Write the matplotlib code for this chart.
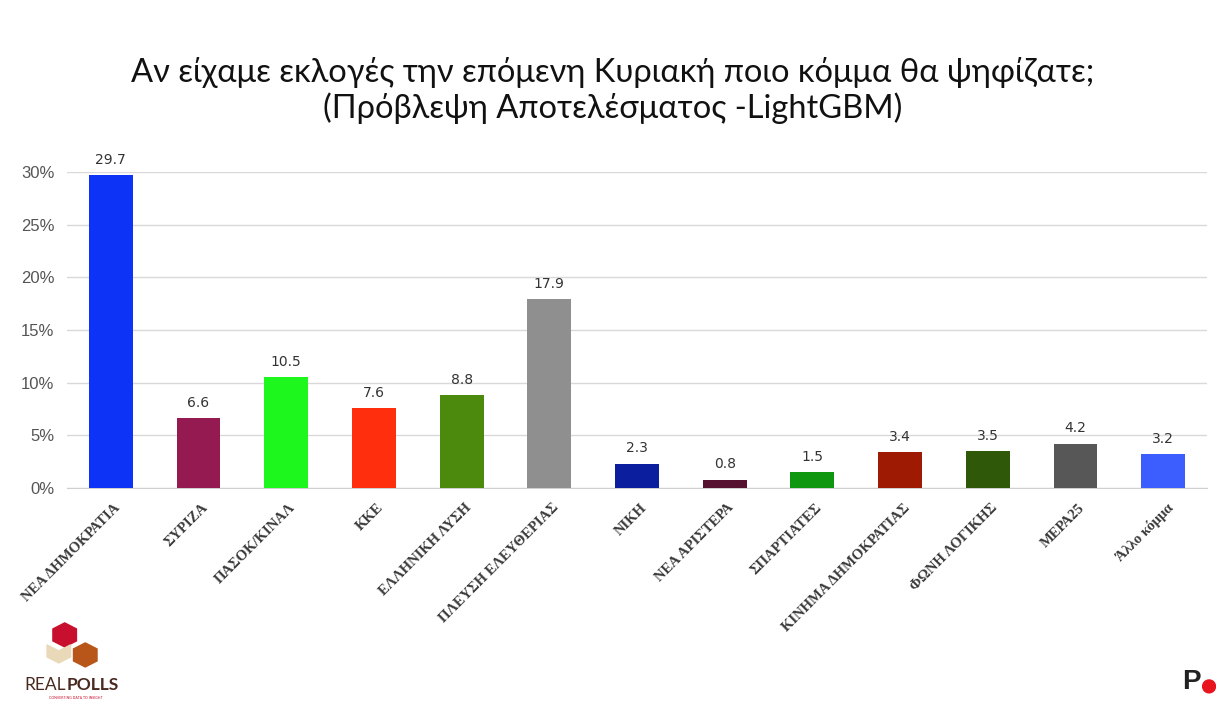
import matplotlib
matplotlib.use('Agg')
import matplotlib.pyplot as plt
from matplotlib.patches import Polygon, Circle

# data
parties = ['ΝΕΑ ΔΗΜΟΚΡΑΤΙΑ', 'ΣΥΡΙΖΑ', 'ΠΑΣΟΚ/ΚΙΝΑΛ', 'ΚΚΕ', 'ΕΛΛΗΝΙΚΗ ΛΥΣΗ',
           'ΠΛΕΥΣΗ ΕΛΕΥΘΕΡΙΑΣ', 'ΝΙΚΗ', 'ΝΕΑ ΑΡΙΣΤΕΡΑ', 'ΣΠΑΡΤΙΑΤΕΣ',
           'ΚΙΝΗΜΑ ΔΗΜΟΚΡΑΤΙΑΣ', 'ΦΩΝΗ ΛΟΓΙΚΗΣ', 'ΜΕΡΑ25', 'Άλλο κόμμα']
values = [29.7, 6.6, 10.5, 7.6, 8.8, 17.9, 2.3, 0.8, 1.5, 3.4, 3.5, 4.2, 3.2]
colors = ['#0D33F7', '#951A52', '#1EF71E', '#FF2E0C', '#4B8A0C', '#8F8F8F',
          '#0A1E9E', '#561030', '#0F980F', '#9E1A02', '#2F5808', '#575757',
          '#3C5EFF']
yticks = [0, 5, 10, 15, 20, 25, 30]

fig = plt.figure(figsize=(12.25, 7.15), dpi=100)
ax = fig.add_axes([0.0547, 0.3175, 0.9306, 0.4419])

x = range(len(parties))
ax.bar(x, values, width=0.5, color=colors, zorder=3)
for i, v in zip(x, values):
    ax.annotate(f'{v}', (i, v), xytext=(0, 6), textcoords='offset points',
                ha='center', va='bottom', fontsize=10, color='#333333',
                family='DejaVu Sans', annotation_clip=False)

ax.set_xlim(-0.5, len(parties) - 0.5)
ax.set_ylim(0, 30)
ax.set_yticks(yticks)
ax.set_yticklabels([f'{t}%' for t in yticks], fontsize=12, color='#555555',
                   family='Liberation Sans')
ax.set_xticks(list(x))
ax.set_xticklabels([])
# rotated party names, top end just below each bar
for i, name in zip(x, parties):
    ax.annotate(name, (i, 0), xytext=(2, -9.5), textcoords='offset points',
                xycoords=('data', 'axes fraction'), rotation=45,
                rotation_mode='anchor', ha='right', va='top', fontsize=10.5,
                color='#3A3A3A', family='Liberation Serif', fontweight='bold',
                annotation_clip=False)
ax.tick_params(axis='both', length=0)
ax.tick_params(axis='y', pad=9)
ax.grid(axis='y', color='#D9D9D9', linewidth=1, zorder=0)
for s in ['top', 'right', 'left']:
    ax.spines[s].set_visible(False)
ax.spines['bottom'].set_color('#D0D0D0')

fig.text(0.5, 0.899, 'Αν είχαμε εκλογές την επόμενη Κυριακή ποιο κόμμα θα ψηφίζατε;',
         ha='center', va='center', fontsize=23.5, color='#111111', family='Lato')
fig.text(0.5, 0.848, '(Πρόβλεψη Αποτελέσματος -LightGBM)',
         ha='center', va='center', fontsize=23.5, color='#111111', family='Lato')

# logo bottom left
lax = fig.add_axes([0.0, 0.0, 0.12, 0.14])
lax.set_xlim(0, 100)
lax.set_ylim(0, 100)
lax.axis('off')
lax.add_patch(Polygon([[44, 92], [52, 86], [52, 74], [44, 68], [36, 74], [36, 86]],
                      closed=True, color='#C8102E'))
lax.add_patch(Polygon([[40, 64], [48, 70], [48, 58], [40, 52], [32, 58], [32, 70]],
                      closed=True, color='#EAD9B8'))
lax.add_patch(Polygon([[58, 72], [66, 66], [66, 54], [58, 48], [50, 54], [50, 66]],
                      closed=True, color='#B8561A'))
lax.text(45, 30, 'REAL', fontsize=12.5, color='#4A2A20', family='Lato', va='center',
         ha='right')
lax.text(45, 30, 'POLLS', fontsize=12.5, color='#4A2A20', family='Lato', va='center',
         fontweight='bold')
lax.text(33, 17, 'CONVERTING DATA TO INSIGHT', fontsize=2.5, color='#C8102E',
         family='Lato', va='center')

fig.text(0.965, 0.046, 'P', fontsize=20, fontweight='bold', color='#222222',
         family='Liberation Sans', ha='left', va='center')
pax = fig.add_axes([0.981, 0.03, 0.012, 0.02])
pax.axis('off')
pax.add_patch(Circle((0.5, 0.5), 0.45, color='#E8141E'))
pax.set_xlim(0, 1)
pax.set_ylim(0, 1)
pax.set_aspect('equal')

fig.savefig('out.png', dpi=100)
